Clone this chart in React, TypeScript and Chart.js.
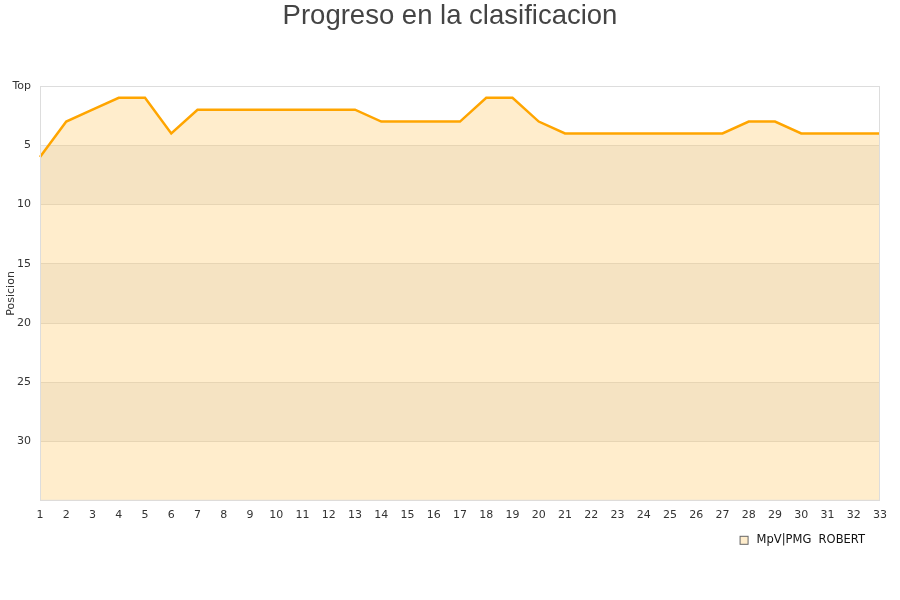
import React, { useEffect, useRef } from "react";
import { Chart, registerables } from "chart.js";

Chart.register(...registerables);

const rounds: string[] = Array.from({ length: 33 }, (_, i) => String(i + 1));
const positions: number[] = [6, 3, 2, 1, 1, 4, 2, 2, 2, 2, 2, 2, 2, 3, 3, 3, 3, 1, 1, 3, 4, 4, 4, 4, 4, 4, 4, 3, 3, 4, 4, 4, 4];
const seriesName = "MpV|PMG  ROBERT";
const titleText = "Progreso en la clasificacion";
const bandRanges: [number, number][] = [[5, 10], [15, 20], [25, 30]];
const FONT = "'DejaVu Sans', sans-serif";
const FILL = "rgba(255,165,0,0.2)";

const bandPlugin = {
  id: "bands",
  beforeDraw(chart: any) {
    const { ctx, chartArea } = chart;
    const y = chart.scales.y;
    ctx.save();
    ctx.fillStyle = "#F3F3F3";
    for (const [a, b] of bandRanges) {
      const y1 = y.getPixelForValue(a);
      const y2 = y.getPixelForValue(b);
      ctx.fillRect(chartArea.left, Math.min(y1, y2), chartArea.right - chartArea.left, Math.abs(y2 - y1));
    }
    ctx.restore();
  },
  afterDatasetsDraw(chart: any) {
    const { ctx, chartArea } = chart;
    ctx.save();
    ctx.strokeStyle = "#DDDDDD";
    ctx.lineWidth = 1;
    ctx.strokeRect(chartArea.left + 0.5, chartArea.top + 0.5, chartArea.right - chartArea.left - 1, chartArea.bottom - chartArea.top - 1);
    ctx.restore();
  },
  afterDraw(chart: any) {
    const { ctx, chartArea } = chart;
    ctx.save();
    // title centred on the canvas
    ctx.font = `27.5px 'Liberation Sans', Arial, sans-serif`;
    ctx.fillStyle = "#444444";
    ctx.textAlign = "center";
    ctx.textBaseline = "middle";
    ctx.fillText(titleText, chart.width / 2, 16);
    // legend
    ctx.font = `11.5px ${FONT}`;
    ctx.textBaseline = "middle";
    ctx.textAlign = "left";
    const tw = ctx.measureText(seriesName).width;
    const cy = chartArea.bottom + 39.5;
    const textX = chartArea.right - 15 - tw;
    const bx = textX - 17;
    ctx.fillStyle = FILL;
    ctx.fillRect(bx + 0.5, cy - 4, 8, 8);
    ctx.strokeStyle = "#666666";
    ctx.lineWidth = 1;
    ctx.strokeRect(bx + 0.5, cy - 4, 8, 8);
    ctx.fillStyle = "#111111";
    ctx.fillText(seriesName, textX, cy);
    ctx.restore();
  },
};

export default function App() {
  const ref = useRef<HTMLCanvasElement | null>(null);
  useEffect(() => {
    if (!ref.current) return;
    const chart = new Chart(ref.current, {
      type: "line",
      data: {
        labels: rounds,
        datasets: [
          {
            label: seriesName,
            data: positions,
            borderColor: "#FFA500",
            backgroundColor: FILL,
            borderWidth: 2.5,
            pointRadius: 0,
            tension: 0,
            fill: { value: 35 },
          },
        ],
      },
      options: {
        animation: false,
        responsive: false,
        layout: { padding: { left: 0, right: 20, top: 86, bottom: 78 } },
        plugins: {
          title: { display: false },
          legend: { display: false },
          tooltip: { enabled: false },
        },
        scales: {
          x: {
            offset: false,
            grid: { display: false },
            border: { display: false },
            ticks: { color: "#333333", font: { family: FONT, size: 11 }, maxRotation: 0, autoSkip: false, padding: 0 },
          },
          y: {
            reverse: true,
            min: 0,
            max: 35,
            afterFit: (s: any) => {
              s.width = 40;
            },
            grid: { color: "#E2E2E2", drawTicks: false },
            border: { display: false },
            title: { display: true, text: "Posicion", color: "#333333", font: { family: FONT, size: 11 }, padding: { top: 5, bottom: 0 } },
            ticks: {
              stepSize: 5,
              color: "#333333",
              font: { family: FONT, size: 11 },
              padding: 9,
              callback: (v: any) => (v === 0 ? "Top" : v === 35 ? "" : String(v)),
            },
          },
        },
      },
      plugins: [bandPlugin],
    });
    return () => chart.destroy();
  }, []);
  return (
    <div style={{ position: "fixed", left: 0, top: 0, width: 900, height: 600, background: "#fff" }}>
      <canvas ref={ref} width={900} height={600} />
    </div>
  );
}
